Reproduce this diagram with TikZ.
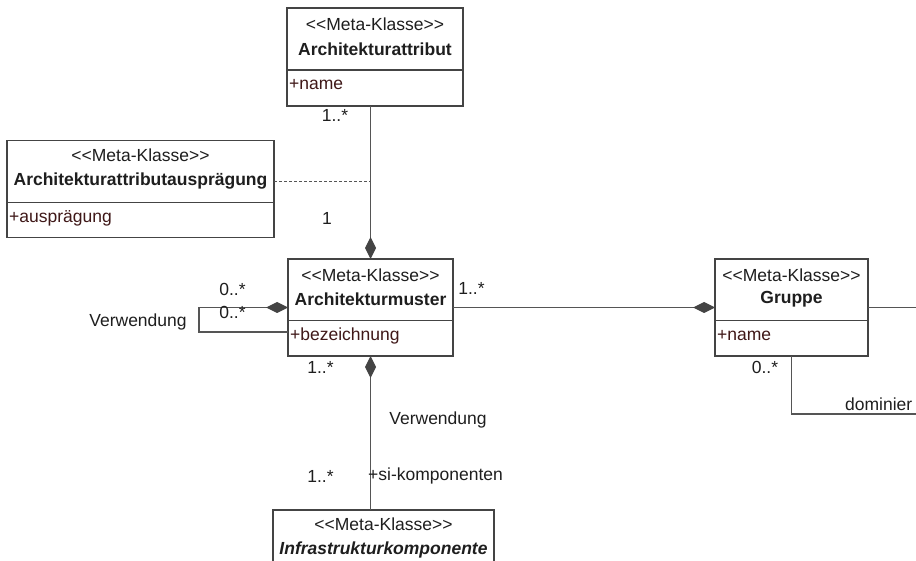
\documentclass[tikz,border=0pt]{standalone}
\usepackage{fontspec}
\setmainfont{Liberation Sans}
\usetikzlibrary{arrows.meta,calc}
\definecolor{edgegray}{HTML}{555555}
\definecolor{boxgray}{HTML}{444444}
\definecolor{attrred}{HTML}{3F1818}
\definecolor{txt}{HTML}{1E1E1E}
\tikzset{comp/.tip={Diamond[length=22pt,width=11pt,fill=boxgray,color=boxgray]}}
\newcommand{\metaklasse}{{<}{<}Meta-Klasse{>}{>}}
\begin{document}
\begin{tikzpicture}[x=1pt,y=-1pt,
  font=\fontsize{17.5}{20}\selectfont,
  cls/.style={draw=boxgray, line width=1.2pt, fill=white, inner sep=0pt, outer sep=0pt, anchor=north west},
  divider/.style={draw=boxgray, line width=1.2pt},
  stereo/.style={text=txt, inner sep=0pt},
  cname/.style={text=txt, font=\fontsize{17.5}{20}\selectfont\bfseries, inner sep=0pt},
  attrib/.style={text=attrred, anchor=west, inner sep=0pt},
  lbl/.style={text=txt, inner sep=0pt},
  assoc/.style={draw=edgegray, line width=1.2pt},
  depend/.style={draw=edgegray, line width=1pt, dash pattern=on 3pt off 2pt}]
\useasboundingbox (0,0) rectangle (916,561);
\clip (0,0) rectangle (916,561);

% class boxes
\node[cls, minimum width=176pt, minimum height=98pt] (attr) at (287,8) {};
\node[cls, minimum width=267pt, minimum height=97pt] (ausp) at (7,140.5) {};
\node[cls, minimum width=165pt, minimum height=97pt] (muster) at (288,259) {};
\node[cls, minimum width=153pt, minimum height=97pt] (gruppe) at (715,259) {};
\node[cls, minimum width=221pt, minimum height=120pt] (infra) at (273,510) {};

% compartment dividers
\draw[divider] (attr.west |- 0,70) -- (attr.east |- 0,70);
\draw[divider] (ausp.west |- 0,202.5) -- (ausp.east |- 0,202.5);
\draw[divider] (muster.west |- 0,320.5) -- (muster.east |- 0,320.5);
\draw[divider] (gruppe.west |- 0,320.5) -- (gruppe.east |- 0,320.5);

% class texts
\node[stereo] (attrS) at (375,24) {\metaklasse};
\node[cname]  (attrN) at (375,49) {Architekturattribut};
\node[attrib] (attrA) at (289,85) {+name};

\node[stereo] (auspS) at (140.5,155) {\metaklasse};
\node[cname]  (auspN) at (140.5,181.5) {Architekturattributausprägung};
\node[attrib] (auspA) at (9,218) {+ausprägung};

\node[stereo] (musterS) at (370.5,275) {\metaklasse};
\node[cname]  (musterN) at (370.5,299.5) {Architekturmuster};
\node[attrib] (musterA) at (290,336) {+bezeichnung};

\node[stereo] (gruppeS) at (791.5,275) {\metaklasse};
\node[cname]  (gruppeN) at (791.5,299.5) {Gruppe};
\node[attrib] (gruppeA) at (717,336) {+name};

\node[stereo] (infraS) at (383.5,524) {\metaklasse};
\node[cname, font=\fontsize{17.5}{20}\selectfont\bfseries\itshape] (infraN) at (383.5,550) {Infrastrukturkomponente};

% connectors
\coordinate (gexit) at (916,307.5);
\coordinate (domexit) at (916,414);

\draw[assoc, -{comp}] (muster.north |- attr.south) -- (muster.north);
\draw[depend] ($(ausp.east)+(0,-7.5)$) -- ($(muster.north |- ausp.east)+(0,-7.5)$);
\draw[assoc, {comp}-] (muster.west) -- ++(-89,0) |- ($(muster.south west)+(0,-24)$);
\draw[assoc, -{comp}] (muster.east) -- (gruppe.west);
\draw[assoc] (gruppe.east) -- (gexit);
\draw[assoc] (gruppe.south) |- (domexit);
\draw[assoc, {comp}-] (muster.south) -- (muster.south |- infra.north);

% multiplicities and role names
\node[lbl] (m1) at (335,115) {1..*};
\node[lbl] (m2) at (327,218) {1};
\node[lbl] (m3) at (232.5,289) {0..*};
\node[lbl] (m4) at (232.5,312) {0..*};
\node[lbl] (v1) at (138,322) {Verwendung};
\node[lbl] (m5) at (320.5,367) {1..*};
\node[lbl] (m6) at (471.5,288) {1..*};
\node[lbl] (m7) at (765,367) {0..*};
\node[lbl, anchor=west] (dom) at (845,404) {dominier};
\node[lbl] (v2) at (438,420) {Verwendung};
\node[lbl] (m8) at (320.5,476) {1..*};
\node[lbl, anchor=west] (role) at (368,476) {+si-komponenten};
\end{tikzpicture}
\end{document}
